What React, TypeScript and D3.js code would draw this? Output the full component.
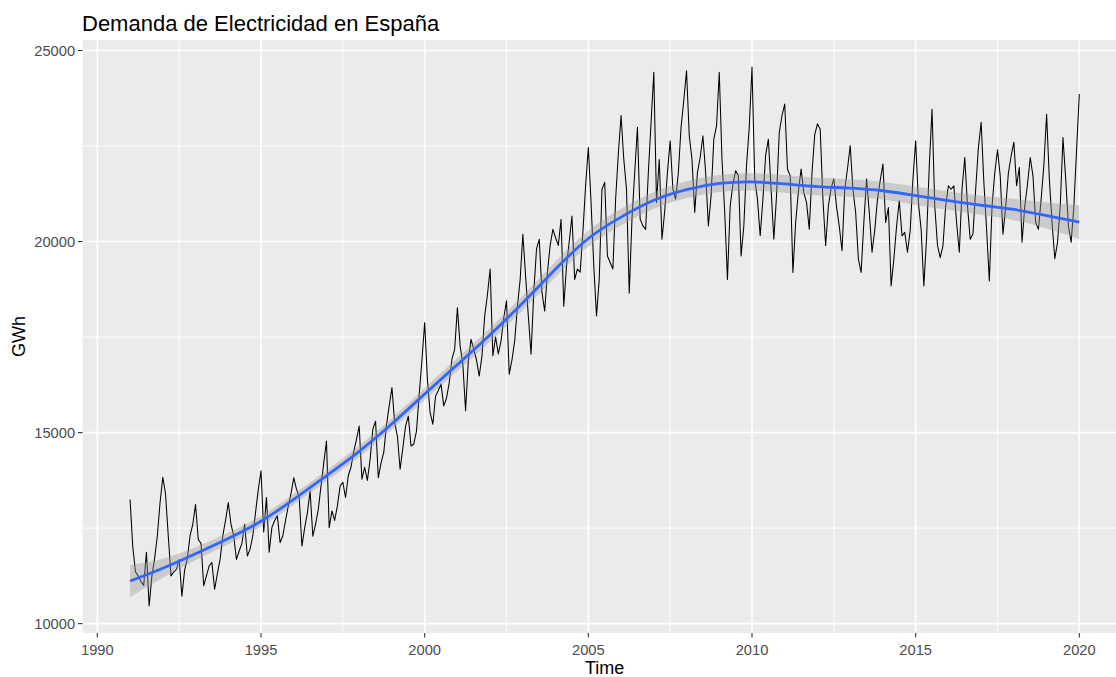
import React from "react";
import * as d3 from "d3";

const startYear = 1991;

// Monthly electricity demand (GWh), Jan 1991 .. Jan 2020
const monthlyDemand: number[] = [
  13250, 12000, 11350, 11250, 11100, 11000, 11870, 10460, 11250, 11700, 12300, 13170,
  13830, 13400, 12300, 11250, 11350, 11420, 11680, 10720, 11400, 11700, 12300, 12600,
  13120, 12200, 12100, 10990, 11250, 11510, 11600, 10900, 11300, 11680, 12300, 12700,
  13170, 12600, 12300, 11680, 11900, 12100, 12600, 11770, 11950, 12300, 12910, 13500,
  14000, 12400, 13300, 11870, 12520, 12700, 12820, 12120, 12300, 12700, 13080, 13400,
  13820, 13520, 13320, 12030, 12500, 12900, 13470, 12290, 12600, 12990, 13600, 14200,
  14780, 12510, 12950, 12700, 13080, 13600, 13700, 13300, 13870, 14100, 14500, 14820,
  15170, 13780, 14090, 13750, 14300, 15090, 15300, 13820, 14200, 14480, 15200, 15700,
  16180, 15260, 14910, 14040, 14600, 15170, 15430, 14650, 14700, 15040, 16000, 16900,
  17880, 16400, 15520, 15220, 15960, 16100, 16270, 15700, 15900, 16300, 16920, 17180,
  18270, 17270, 16790, 15570, 16880, 17440, 17180, 16900, 16480, 17000, 18050, 18600,
  19280, 17010, 17500, 17060, 17400, 18000, 18450, 16530, 16900, 17400, 18300, 19000,
  20190, 19100, 18050, 17050, 18670, 19800, 20060, 18670, 18180, 19190, 19900, 20320,
  20100, 19900, 20580, 18310, 19360, 20000, 20670, 19010, 19280, 19200, 20240, 21460,
  22460, 21020, 19360, 18050, 19010, 21370, 21550, 19620, 19450, 19280, 21110, 22300,
  23300, 22150, 21370, 18650, 20590, 21800, 22990, 20590, 20410, 20320, 21800, 23120,
  24430, 21020, 22150, 20060, 20800, 21810, 22640, 21370, 21110, 21800, 23000, 23700,
  24470, 22770, 22150, 20760, 21810, 22200, 22770, 21810, 20410, 21200, 22680, 23030,
  24430, 22150, 20760, 19010, 20930, 21500, 21850, 21720, 19620, 20400, 22000, 23000,
  24570, 21640, 21110, 20150, 21110, 22260, 22680, 21370, 20060, 21200, 22860, 23300,
  23600, 21900, 21720, 19190, 20500, 21300, 21900, 21280, 21020, 20320, 21810, 22800,
  23080, 22940, 21110, 19890, 20930, 21400, 21640, 20900, 20400, 19760, 21370, 21900,
  22510, 21370, 20760, 19540, 19190, 20500, 21640, 20760, 19720, 20300, 21110, 21600,
  22030, 20500, 20890, 18840, 19540, 20400, 21070, 20150, 20240, 19720, 20300, 21640,
  22640, 21020, 20320, 18840, 20100, 22000, 23460, 20930, 19900, 19580, 19890, 20930,
  21460, 21370, 21460, 20500, 19720, 21370, 22200, 20930, 20060, 20200, 21370, 22460,
  23120, 21550, 20320, 18970, 20930, 21800, 22400, 21720, 20190, 20900, 21800, 22240,
  22600, 21460, 21940, 19980, 20930, 21500, 22200, 21720, 20500, 20320, 21110, 22000,
  23330, 21640, 20500, 19550, 19980, 20930, 22720, 21640, 20410, 19980, 20930, 22420,
  23860,
];

// Loess smooth read at yearly knots
const smoothYears: number[] = [
  1991, 1992, 1993, 1994, 1995, 1996, 1997, 1998, 1999, 2000,
  2001, 2002, 2003, 2004, 2005, 2006, 2007, 2008, 2009, 2010,
  2011, 2012, 2013, 2014, 2015, 2016, 2017, 2018, 2019, 2020,
];
const smoothValues: number[] = [
  11115, 11450, 11830, 12230, 12680, 13250, 13870, 14510, 15230, 16010,
  16780, 17560, 18400, 19280, 20080, 20640, 21080, 21360, 21520, 21560,
  21510, 21440, 21400, 21330, 21200, 21070, 20950, 20840, 20680, 20510,
];
const smoothSE: number[] = [
  420, 250, 170, 150, 140, 140, 140, 150, 150, 160,
  170, 180, 190, 200, 210, 220, 220, 220, 220, 230,
  230, 230, 230, 230, 240, 240, 250, 280, 340, 440,
];

const xTicks: number[] = [1990, 1995, 2000, 2005, 2010, 2015, 2020];
const xMinorTicks: number[] = [1992.5, 1997.5, 2002.5, 2007.5, 2012.5, 2017.5];
const yTicks: number[] = [10000, 15000, 20000, 25000];
const yMinorTicks: number[] = [12500, 17500, 22500];

const titleText = "Demanda de Electricidad en España";
const xTitle = "Time";
const yTitle = "GWh";

export default function App() {
  React.useEffect(() => {
    document.body.style.margin = "0";
  }, []);

  const W = 1116;
  const H = 677;
  const panel = { left: 82.6, right: 1126.8, top: 40, bottom: 633 };

  const times = monthlyDemand.map((_, i) => startYear + i / 12);
  const t0 = d3.min(times)!;
  const t1 = d3.max(times)!;
  const tPad = (t1 - t0) * 0.05;
  const x = d3.scaleLinear().domain([t0 - tPad, t1 + tPad]).range([panel.left, panel.right]);

  const v0 = d3.min(monthlyDemand)!;
  const v1 = d3.max(monthlyDemand)!;
  const vPad = (v1 - v0) * 0.05;
  const y = d3.scaleLinear().domain([v0 - vPad, v1 + vPad]).range([panel.bottom, panel.top]);

  const dataLine = d3
    .line<number>()
    .x((_, i) => x(times[i]))
    .y((d) => y(d))(monthlyDemand) as string;

  const smoothPath = d3
    .line<number>()
    .x((_, i) => x(smoothYears[i]))
    .y((d) => y(d))
    .curve(d3.curveNatural)(smoothValues) as string;

  const ribbonPath = d3
    .area<number>()
    .x((_, i) => x(smoothYears[i]))
    .y0((d, i) => y(d - smoothSE[i]))
    .y1((d, i) => y(d + smoothSE[i]))
    .curve(d3.curveNatural)(smoothValues) as string;

  const font = "'Liberation Sans', Arial, sans-serif";
  const pw = panel.right - panel.left;
  const ph = panel.bottom - panel.top;

  return (
    <svg
      width={W}
      height={H}
      style={{ position: "absolute", left: 0, top: 0, display: "block", background: "#fff" }}
      fontFamily={font}
    >
      <defs>
        <clipPath id="panelClip">
          <rect x={panel.left} y={panel.top} width={pw} height={ph} />
        </clipPath>
      </defs>
      <rect x={0} y={0} width={W} height={H} fill="#ffffff" />
      <rect x={panel.left} y={panel.top} width={pw} height={ph} fill="#EBEBEB" />
      {xMinorTicks.map((t) => (
        <line key={"xm" + t} x1={x(t)} x2={x(t)} y1={panel.top} y2={panel.bottom} stroke="#fff" strokeWidth={0.9} />
      ))}
      {yMinorTicks.map((t) => (
        <line key={"ym" + t} x1={panel.left} x2={panel.right} y1={y(t)} y2={y(t)} stroke="#fff" strokeWidth={0.9} />
      ))}
      {xTicks.map((t) => (
        <line key={"xg" + t} x1={x(t)} x2={x(t)} y1={panel.top} y2={panel.bottom} stroke="#fff" strokeWidth={1.6} />
      ))}
      {yTicks.map((t) => (
        <line key={"yg" + t} x1={panel.left} x2={panel.right} y1={y(t)} y2={y(t)} stroke="#fff" strokeWidth={1.6} />
      ))}
      <g clipPath="url(#panelClip)">
        <path d={dataLine} fill="none" stroke="#000" strokeWidth={1.05} strokeLinejoin="round" />
        <path d={ribbonPath} fill="#999999" fillOpacity={0.4} stroke="none" />
        <path d={smoothPath} fill="none" stroke="#3366FF" strokeWidth={2.8} />
      </g>
      {yTicks.map((t) => (
        <g key={"yt" + t}>
          <line x1={panel.left - 4.6} x2={panel.left} y1={y(t)} y2={y(t)} stroke="#333333" strokeWidth={1.1} />
          <text x={panel.left - 7.5} y={y(t)} dy="0.36em" textAnchor="end" fontSize={14.7} fill="#4D4D4D">
            {t}
          </text>
        </g>
      ))}
      {xTicks.map((t) => (
        <g key={"xt" + t}>
          <line x1={x(t)} x2={x(t)} y1={panel.bottom} y2={panel.bottom + 4.6} stroke="#333333" strokeWidth={1.1} />
          <text x={x(t)} y={655} textAnchor="middle" fontSize={14.7} fill="#4D4D4D">
            {t}
          </text>
        </g>
      ))}
      <text x={(panel.left + panel.right) / 2} y={674} textAnchor="middle" fontSize={18} fill="#000">
        {xTitle}
      </text>
      <text
        transform={`translate(25, ${(panel.top + panel.bottom) / 2}) rotate(-90)`}
        textAnchor="middle"
        fontSize={18}
        fill="#000"
      >
        {yTitle}
      </text>
      <text x={82} y={31} fontSize={22} fill="#000">
        {titleText}
      </text>
    </svg>
  );
}
